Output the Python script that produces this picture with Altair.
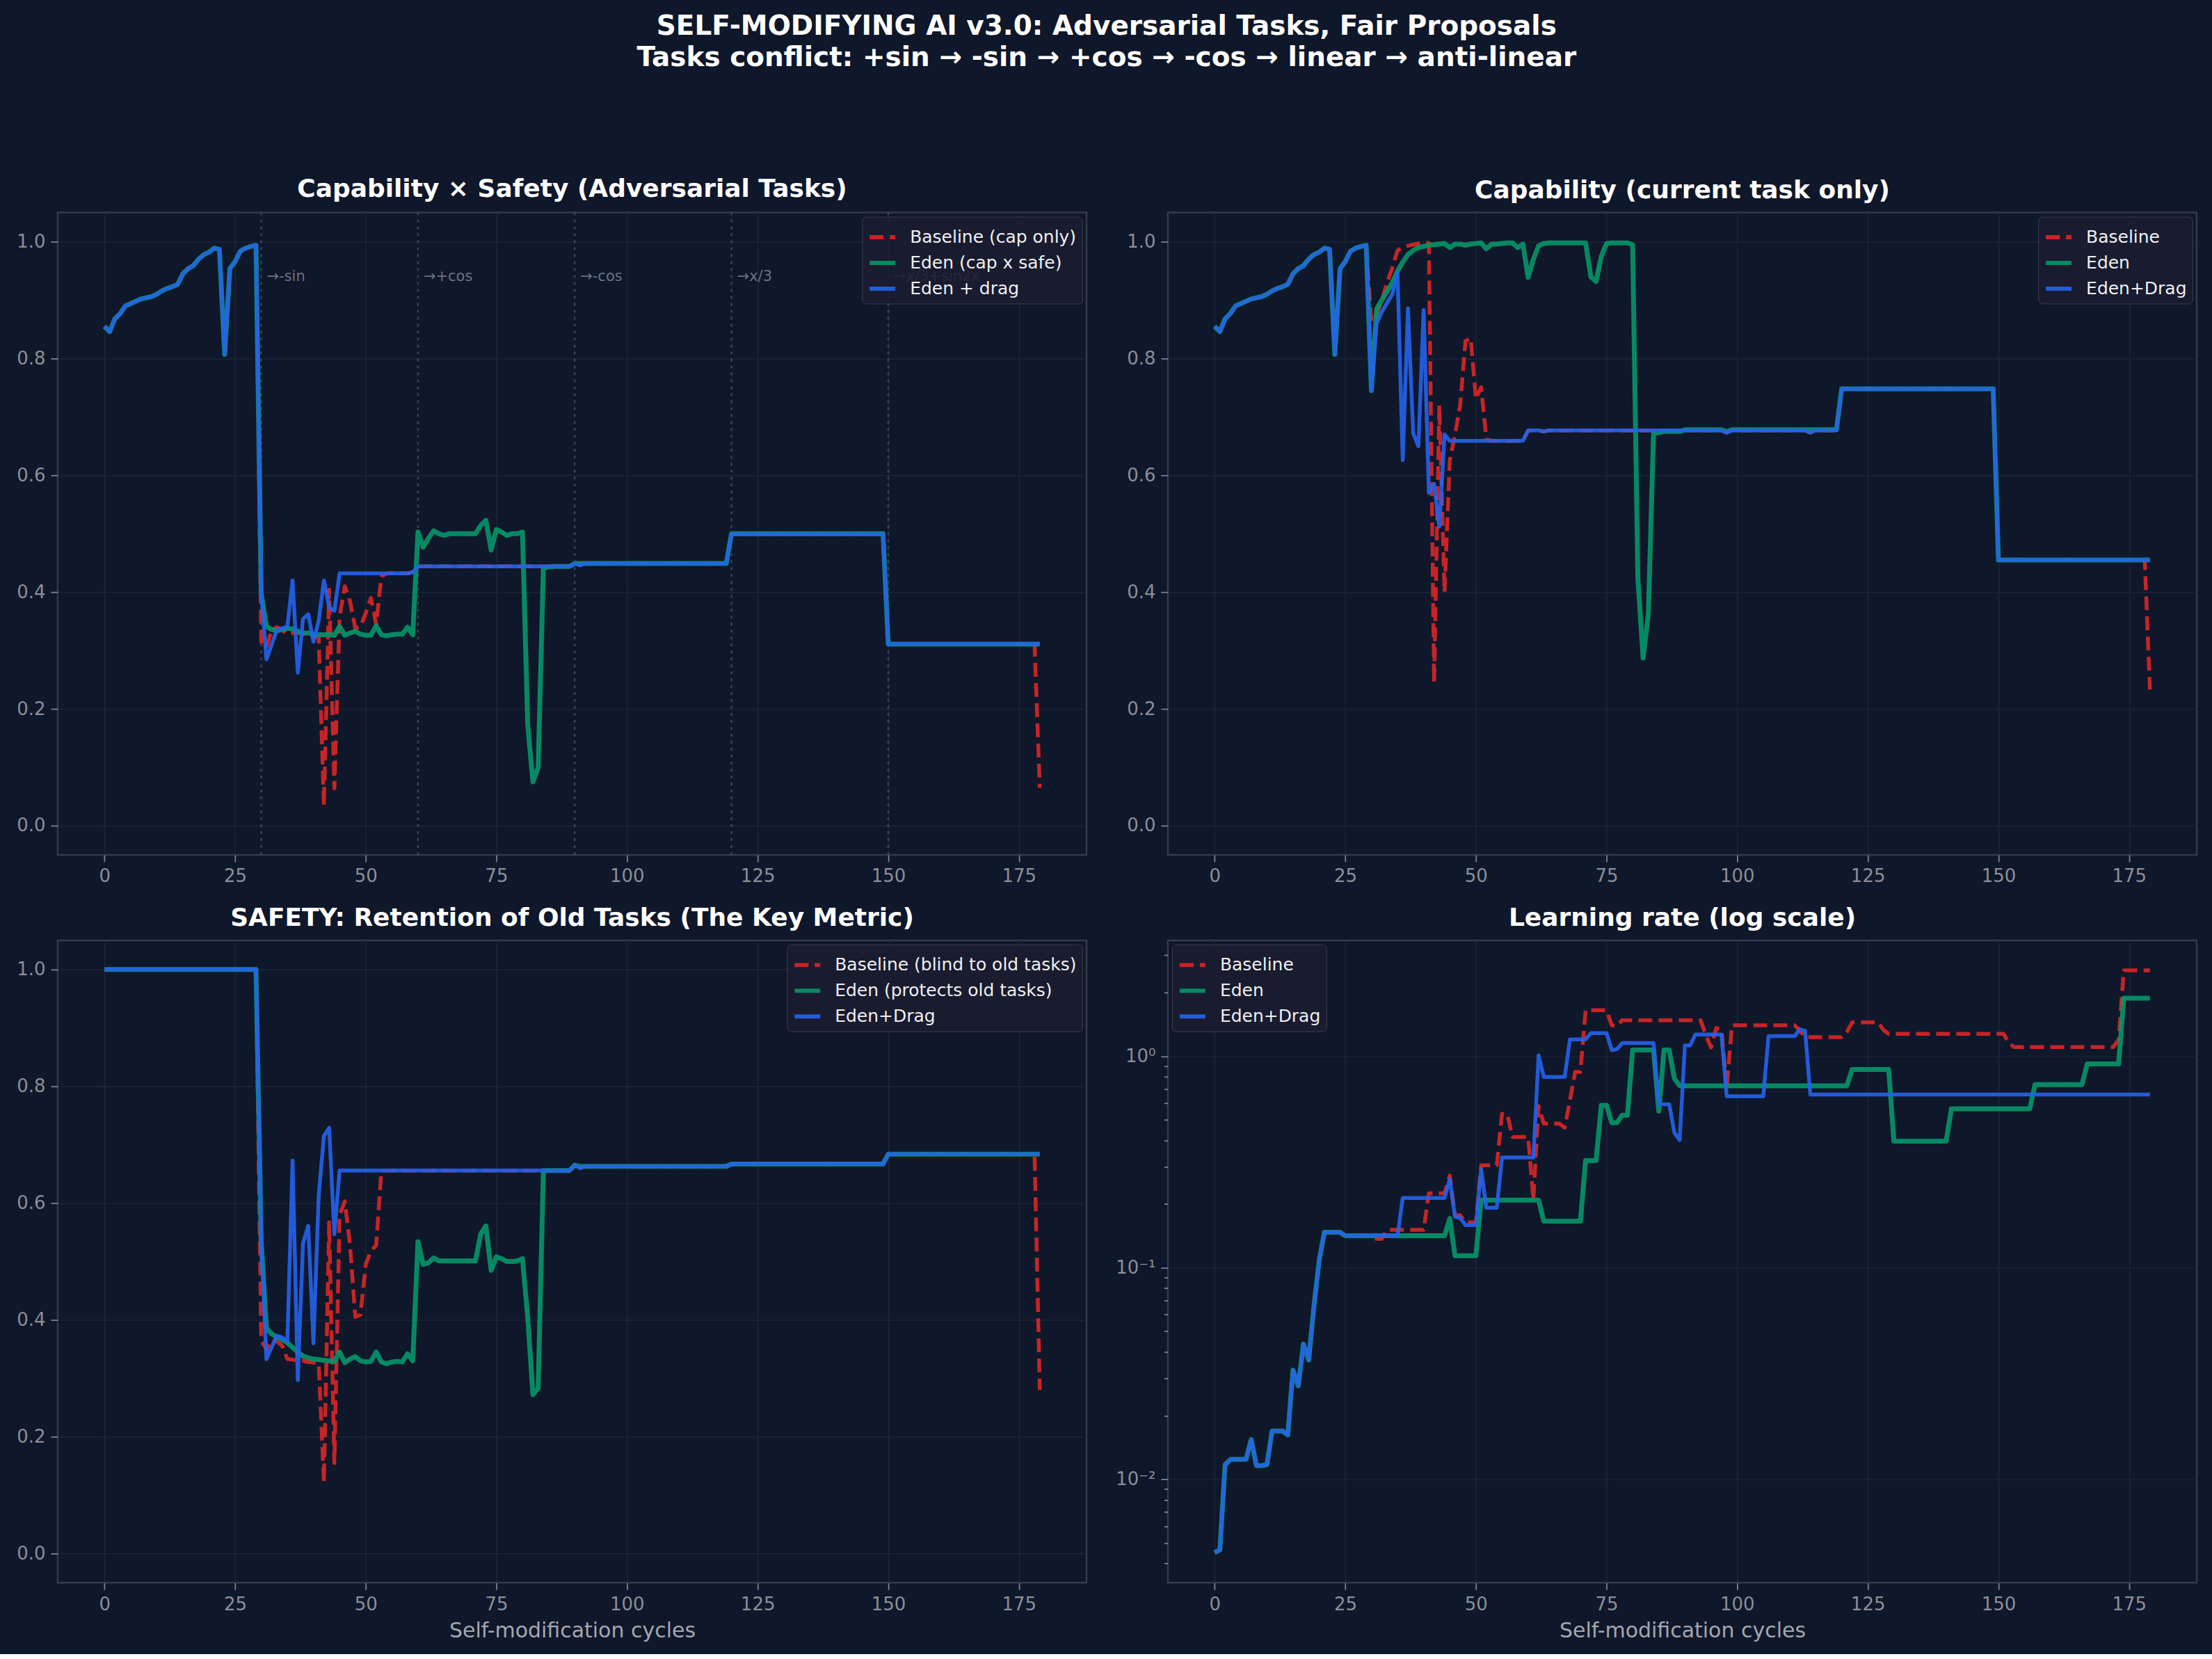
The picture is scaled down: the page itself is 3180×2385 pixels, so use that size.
import altair as alt
import pandas as pd

# ---------------------------------------------------------------- data
CYCLES = list(range(180))
TASK_SWITCHES = [30, 60, 90, 120, 150]
TASK_NOTES = ["→-sin", "→+cos", "→-cos", "→x/3", "→x/3+sin2x"]

# Panel 1: Capability x Safety
CXS_BASELINE = [
    0.855, 0.846, 0.868, 0.877, 0.890, 0.894, 0.898, 0.902, 0.904, 0.906,
    0.910, 0.916, 0.920, 0.923, 0.927, 0.945, 0.954, 0.959, 0.970, 0.978,
    0.982, 0.989, 0.987, 0.807, 0.954, 0.966, 0.984, 0.989, 0.992, 0.994,
    0.315, 0.305, 0.335, 0.340, 0.335, 0.328, 0.330, 0.330, 0.328, 0.326,
    0.325, 0.322, 0.034, 0.404, 0.064, 0.358, 0.410, 0.384, 0.338, 0.341,
    0.364, 0.390, 0.345, 0.427, 0.432, 0.432, 0.432, 0.432, 0.432, 0.434,
    0.444, 0.444, 0.444, 0.444, 0.444, 0.444, 0.444, 0.444, 0.444, 0.444,
    0.444, 0.444, 0.444, 0.444, 0.444, 0.444, 0.444, 0.444, 0.444, 0.444,
    0.444, 0.444, 0.444, 0.444, 0.444, 0.444, 0.444, 0.444, 0.444, 0.444,
    0.449, 0.446, 0.449, 0.449, 0.449, 0.449, 0.449, 0.449, 0.449, 0.449,
    0.449, 0.449, 0.449, 0.449, 0.449, 0.449, 0.449, 0.449, 0.449, 0.449,
    0.449, 0.449, 0.449, 0.449, 0.449, 0.449, 0.449, 0.449, 0.449, 0.449,
    0.499, 0.499, 0.499, 0.499, 0.499, 0.499, 0.499, 0.499, 0.499, 0.499,
    0.499, 0.499, 0.499, 0.499, 0.499, 0.499, 0.499, 0.499, 0.499, 0.499,
    0.499, 0.499, 0.499, 0.499, 0.499, 0.499, 0.499, 0.499, 0.499, 0.499,
    0.311, 0.311, 0.311, 0.311, 0.311, 0.311, 0.311, 0.311, 0.311, 0.311,
    0.311, 0.311, 0.311, 0.311, 0.311, 0.311, 0.311, 0.311, 0.311, 0.311,
    0.311, 0.311, 0.311, 0.311, 0.311, 0.311, 0.311, 0.311, 0.311, 0.065,
]
CXS_EDEN = [
    0.855, 0.846, 0.868, 0.877, 0.890, 0.894, 0.898, 0.902, 0.904, 0.906,
    0.910, 0.916, 0.920, 0.923, 0.927, 0.945, 0.954, 0.959, 0.970, 0.978,
    0.982, 0.989, 0.987, 0.807, 0.954, 0.966, 0.984, 0.989, 0.992, 0.994,
    0.397, 0.341, 0.336, 0.334, 0.336, 0.338, 0.337, 0.333, 0.330, 0.330,
    0.328, 0.327, 0.327, 0.327, 0.326, 0.341, 0.326, 0.330, 0.333, 0.328,
    0.326, 0.326, 0.342, 0.327, 0.325, 0.327, 0.328, 0.328, 0.340, 0.327,
    0.503, 0.477, 0.492, 0.505, 0.500, 0.497, 0.500, 0.500, 0.500, 0.500,
    0.500, 0.500, 0.514, 0.523, 0.472, 0.507, 0.503, 0.497, 0.500, 0.500,
    0.503, 0.173, 0.075, 0.100, 0.441, 0.443, 0.444, 0.444, 0.444, 0.444,
    0.449, 0.449, 0.449, 0.449, 0.449, 0.449, 0.449, 0.449, 0.449, 0.449,
    0.449, 0.449, 0.449, 0.449, 0.449, 0.449, 0.449, 0.449, 0.449, 0.449,
    0.449, 0.449, 0.449, 0.449, 0.449, 0.449, 0.449, 0.449, 0.449, 0.449,
    0.500, 0.500, 0.500, 0.500, 0.500, 0.500, 0.500, 0.500, 0.500, 0.500,
    0.500, 0.500, 0.500, 0.500, 0.500, 0.500, 0.500, 0.500, 0.500, 0.500,
    0.500, 0.500, 0.500, 0.500, 0.500, 0.500, 0.500, 0.500, 0.500, 0.500,
    0.311, 0.311, 0.311, 0.311, 0.311, 0.311, 0.311, 0.311, 0.311, 0.311,
    0.311, 0.311, 0.311, 0.311, 0.311, 0.311, 0.311, 0.311, 0.311, 0.311,
    0.311, 0.311, 0.311, 0.311, 0.311, 0.311, 0.311, 0.311, 0.311, 0.311,
]
CXS_DRAG = [
    0.855, 0.846, 0.868, 0.877, 0.890, 0.894, 0.898, 0.902, 0.904, 0.906,
    0.910, 0.916, 0.920, 0.923, 0.927, 0.945, 0.954, 0.959, 0.970, 0.978,
    0.982, 0.989, 0.987, 0.807, 0.954, 0.966, 0.984, 0.989, 0.992, 0.994,
    0.397, 0.285, 0.310, 0.335, 0.338, 0.341, 0.420, 0.262, 0.354, 0.362,
    0.315, 0.351, 0.420, 0.374, 0.368, 0.432, 0.432, 0.432, 0.432, 0.432,
    0.432, 0.432, 0.432, 0.432, 0.432, 0.432, 0.432, 0.432, 0.432, 0.434,
    0.444, 0.444, 0.444, 0.444, 0.444, 0.444, 0.444, 0.444, 0.444, 0.444,
    0.444, 0.444, 0.444, 0.444, 0.444, 0.444, 0.444, 0.444, 0.444, 0.444,
    0.444, 0.444, 0.444, 0.444, 0.444, 0.444, 0.444, 0.444, 0.444, 0.444,
    0.449, 0.446, 0.449, 0.449, 0.449, 0.449, 0.449, 0.449, 0.449, 0.449,
    0.449, 0.449, 0.449, 0.449, 0.449, 0.449, 0.449, 0.449, 0.449, 0.449,
    0.449, 0.449, 0.449, 0.449, 0.449, 0.449, 0.449, 0.449, 0.449, 0.449,
    0.499, 0.499, 0.499, 0.499, 0.499, 0.499, 0.499, 0.499, 0.499, 0.499,
    0.499, 0.499, 0.499, 0.499, 0.499, 0.499, 0.499, 0.499, 0.499, 0.499,
    0.499, 0.499, 0.499, 0.499, 0.499, 0.499, 0.499, 0.499, 0.499, 0.499,
    0.311, 0.311, 0.311, 0.311, 0.311, 0.311, 0.311, 0.311, 0.311, 0.311,
    0.311, 0.311, 0.311, 0.311, 0.311, 0.311, 0.311, 0.311, 0.311, 0.311,
    0.311, 0.311, 0.311, 0.311, 0.311, 0.311, 0.311, 0.311, 0.311, 0.311,
]

# Panel 2: Capability (current task only)
CAP_BASELINE = [
    0.855, 0.846, 0.868, 0.877, 0.890, 0.894, 0.898, 0.902, 0.904, 0.906,
    0.910, 0.916, 0.920, 0.923, 0.927, 0.945, 0.954, 0.959, 0.970, 0.978,
    0.982, 0.989, 0.987, 0.807, 0.954, 0.966, 0.984, 0.989, 0.992, 0.994,
    0.863, 0.875, 0.900, 0.930, 0.955, 0.985, 0.990, 0.993, 0.995, 0.997,
    0.998, 0.998, 0.245, 0.720, 0.400, 0.625, 0.670, 0.720, 0.830, 0.835,
    0.731, 0.751, 0.662, 0.659, 0.659, 0.659, 0.659, 0.659, 0.659, 0.659,
    0.677, 0.677, 0.677, 0.675, 0.677, 0.677, 0.677, 0.677, 0.677, 0.677,
    0.677, 0.677, 0.677, 0.677, 0.677, 0.677, 0.677, 0.677, 0.677, 0.677,
    0.677, 0.677, 0.677, 0.677, 0.677, 0.677, 0.677, 0.677, 0.677, 0.677,
    0.677, 0.677, 0.677, 0.677, 0.677, 0.677, 0.677, 0.677, 0.673, 0.677,
    0.677, 0.677, 0.677, 0.677, 0.677, 0.677, 0.677, 0.677, 0.677, 0.677,
    0.677, 0.677, 0.677, 0.677, 0.673, 0.677, 0.677, 0.677, 0.677, 0.677,
    0.748, 0.748, 0.748, 0.748, 0.748, 0.748, 0.748, 0.748, 0.748, 0.748,
    0.748, 0.748, 0.748, 0.748, 0.748, 0.748, 0.748, 0.748, 0.748, 0.748,
    0.748, 0.748, 0.748, 0.748, 0.748, 0.748, 0.748, 0.748, 0.748, 0.748,
    0.455, 0.455, 0.455, 0.455, 0.455, 0.455, 0.455, 0.455, 0.455, 0.455,
    0.455, 0.455, 0.455, 0.455, 0.455, 0.455, 0.455, 0.455, 0.455, 0.455,
    0.455, 0.455, 0.455, 0.455, 0.455, 0.455, 0.455, 0.455, 0.455, 0.233,
]
CAP_EDEN = [
    0.855, 0.846, 0.868, 0.877, 0.890, 0.894, 0.898, 0.902, 0.904, 0.906,
    0.910, 0.916, 0.920, 0.923, 0.927, 0.945, 0.954, 0.959, 0.970, 0.978,
    0.982, 0.989, 0.987, 0.807, 0.954, 0.966, 0.984, 0.989, 0.992, 0.994,
    0.745, 0.885, 0.900, 0.915, 0.930, 0.950, 0.965, 0.978, 0.985, 0.990,
    0.992, 0.994, 0.995, 0.996, 0.997, 0.990, 0.996, 0.996, 0.994, 0.996,
    0.997, 0.998, 0.988, 0.996, 0.996, 0.997, 0.998, 0.998, 0.990, 0.996,
    0.939, 0.970, 0.993, 0.997, 0.998, 0.998, 0.998, 0.998, 0.998, 0.998,
    0.998, 0.998, 0.940, 0.932, 0.975, 0.997, 0.998, 0.998, 0.998, 0.998,
    0.995, 0.424, 0.287, 0.362, 0.672, 0.673, 0.675, 0.675, 0.675, 0.675,
    0.678, 0.678, 0.678, 0.678, 0.678, 0.678, 0.678, 0.678, 0.675, 0.678,
    0.678, 0.678, 0.678, 0.678, 0.678, 0.678, 0.678, 0.678, 0.678, 0.678,
    0.678, 0.678, 0.678, 0.678, 0.678, 0.678, 0.678, 0.678, 0.678, 0.678,
    0.748, 0.748, 0.748, 0.748, 0.748, 0.748, 0.748, 0.748, 0.748, 0.748,
    0.748, 0.748, 0.748, 0.748, 0.748, 0.748, 0.748, 0.748, 0.748, 0.748,
    0.748, 0.748, 0.748, 0.748, 0.748, 0.748, 0.748, 0.748, 0.748, 0.748,
    0.455, 0.455, 0.455, 0.455, 0.455, 0.455, 0.455, 0.455, 0.455, 0.455,
    0.455, 0.455, 0.455, 0.455, 0.455, 0.455, 0.455, 0.455, 0.455, 0.455,
    0.455, 0.455, 0.455, 0.455, 0.455, 0.455, 0.455, 0.455, 0.455, 0.455,
]
CAP_DRAG = [
    0.855, 0.846, 0.868, 0.877, 0.890, 0.894, 0.898, 0.902, 0.904, 0.906,
    0.910, 0.916, 0.920, 0.923, 0.927, 0.945, 0.954, 0.959, 0.970, 0.978,
    0.982, 0.989, 0.987, 0.807, 0.954, 0.966, 0.984, 0.989, 0.992, 0.994,
    0.745, 0.860, 0.880, 0.895, 0.910, 0.947, 0.626, 0.886, 0.672, 0.650,
    0.883, 0.570, 0.585, 0.512, 0.670, 0.659, 0.659, 0.659, 0.659, 0.659,
    0.659, 0.659, 0.659, 0.659, 0.659, 0.659, 0.659, 0.659, 0.659, 0.659,
    0.677, 0.677, 0.677, 0.675, 0.677, 0.677, 0.677, 0.677, 0.677, 0.677,
    0.677, 0.677, 0.677, 0.677, 0.677, 0.677, 0.677, 0.677, 0.677, 0.677,
    0.677, 0.677, 0.677, 0.677, 0.677, 0.677, 0.677, 0.677, 0.677, 0.677,
    0.677, 0.677, 0.677, 0.677, 0.677, 0.677, 0.677, 0.677, 0.673, 0.677,
    0.677, 0.677, 0.677, 0.677, 0.677, 0.677, 0.677, 0.677, 0.677, 0.677,
    0.677, 0.677, 0.677, 0.677, 0.673, 0.677, 0.677, 0.677, 0.677, 0.677,
    0.748, 0.748, 0.748, 0.748, 0.748, 0.748, 0.748, 0.748, 0.748, 0.748,
    0.748, 0.748, 0.748, 0.748, 0.748, 0.748, 0.748, 0.748, 0.748, 0.748,
    0.748, 0.748, 0.748, 0.748, 0.748, 0.748, 0.748, 0.748, 0.748, 0.748,
    0.455, 0.455, 0.455, 0.455, 0.455, 0.455, 0.455, 0.455, 0.455, 0.455,
    0.455, 0.455, 0.455, 0.455, 0.455, 0.455, 0.455, 0.455, 0.455, 0.455,
    0.455, 0.455, 0.455, 0.455, 0.455, 0.455, 0.455, 0.455, 0.455, 0.455,
]

# Panel 3: Safety (retention of old tasks)
SAFE_BASELINE = [
    1.0, 1.0, 1.0, 1.0, 1.0, 1.0, 1.0, 1.0, 1.0, 1.0,
    1.0, 1.0, 1.0, 1.0, 1.0, 1.0, 1.0, 1.0, 1.0, 1.0,
    1.0, 1.0, 1.0, 1.0, 1.0, 1.0, 1.0, 1.0, 1.0, 1.0,
    0.365, 0.350, 0.366, 0.363, 0.356, 0.333, 0.332, 0.330, 0.330, 0.328,
    0.327, 0.326, 0.122, 0.567, 0.155, 0.580, 0.603, 0.528, 0.405, 0.409,
    0.495, 0.518, 0.528, 0.656, 0.656, 0.656, 0.656, 0.656, 0.656, 0.656,
    0.656, 0.656, 0.656, 0.656, 0.656, 0.656, 0.656, 0.656, 0.656, 0.656,
    0.656, 0.656, 0.656, 0.656, 0.656, 0.656, 0.656, 0.656, 0.656, 0.656,
    0.656, 0.656, 0.656, 0.656, 0.656, 0.656, 0.656, 0.656, 0.656, 0.656,
    0.665, 0.660, 0.663, 0.663, 0.663, 0.663, 0.663, 0.663, 0.663, 0.663,
    0.663, 0.663, 0.663, 0.663, 0.663, 0.663, 0.663, 0.663, 0.663, 0.663,
    0.663, 0.663, 0.663, 0.663, 0.663, 0.663, 0.663, 0.663, 0.663, 0.663,
    0.667, 0.667, 0.667, 0.667, 0.667, 0.667, 0.667, 0.667, 0.667, 0.667,
    0.667, 0.667, 0.667, 0.667, 0.667, 0.667, 0.667, 0.667, 0.667, 0.667,
    0.667, 0.667, 0.667, 0.667, 0.667, 0.667, 0.667, 0.667, 0.667, 0.667,
    0.684, 0.684, 0.684, 0.684, 0.684, 0.684, 0.684, 0.684, 0.684, 0.684,
    0.684, 0.684, 0.684, 0.684, 0.684, 0.684, 0.684, 0.684, 0.684, 0.684,
    0.684, 0.684, 0.684, 0.684, 0.684, 0.684, 0.684, 0.684, 0.684, 0.280,
]
SAFE_EDEN = [
    1.0, 1.0, 1.0, 1.0, 1.0, 1.0, 1.0, 1.0, 1.0, 1.0,
    1.0, 1.0, 1.0, 1.0, 1.0, 1.0, 1.0, 1.0, 1.0, 1.0,
    1.0, 1.0, 1.0, 1.0, 1.0, 1.0, 1.0, 1.0, 1.0, 1.0,
    0.534, 0.386, 0.376, 0.371, 0.366, 0.361, 0.353, 0.345, 0.338, 0.335,
    0.333, 0.332, 0.331, 0.330, 0.329, 0.345, 0.327, 0.333, 0.337, 0.330,
    0.328, 0.329, 0.345, 0.328, 0.325, 0.328, 0.329, 0.328, 0.342, 0.330,
    0.534, 0.495, 0.498, 0.506, 0.501, 0.501, 0.501, 0.501, 0.501, 0.501,
    0.501, 0.501, 0.547, 0.561, 0.485, 0.508, 0.505, 0.500, 0.500, 0.501,
    0.505, 0.405, 0.272, 0.283, 0.656, 0.656, 0.656, 0.656, 0.656, 0.656,
    0.665, 0.663, 0.663, 0.663, 0.663, 0.663, 0.663, 0.663, 0.663, 0.663,
    0.663, 0.663, 0.663, 0.663, 0.663, 0.663, 0.663, 0.663, 0.663, 0.663,
    0.663, 0.663, 0.663, 0.663, 0.663, 0.663, 0.663, 0.663, 0.663, 0.663,
    0.667, 0.667, 0.667, 0.667, 0.667, 0.667, 0.667, 0.667, 0.667, 0.667,
    0.667, 0.667, 0.667, 0.667, 0.667, 0.667, 0.667, 0.667, 0.667, 0.667,
    0.667, 0.667, 0.667, 0.667, 0.667, 0.667, 0.667, 0.667, 0.667, 0.667,
    0.684, 0.684, 0.684, 0.684, 0.684, 0.684, 0.684, 0.684, 0.684, 0.684,
    0.684, 0.684, 0.684, 0.684, 0.684, 0.684, 0.684, 0.684, 0.684, 0.684,
    0.684, 0.684, 0.684, 0.684, 0.684, 0.684, 0.684, 0.684, 0.684, 0.684,
]
SAFE_DRAG = [
    1.0, 1.0, 1.0, 1.0, 1.0, 1.0, 1.0, 1.0, 1.0, 1.0,
    1.0, 1.0, 1.0, 1.0, 1.0, 1.0, 1.0, 1.0, 1.0, 1.0,
    1.0, 1.0, 1.0, 1.0, 1.0, 1.0, 1.0, 1.0, 1.0, 1.0,
    0.534, 0.333, 0.353, 0.373, 0.370, 0.363, 0.673, 0.297, 0.531, 0.561,
    0.360, 0.613, 0.715, 0.729, 0.547, 0.656, 0.656, 0.656, 0.656, 0.656,
    0.656, 0.656, 0.656, 0.656, 0.656, 0.656, 0.656, 0.656, 0.656, 0.656,
    0.656, 0.656, 0.656, 0.656, 0.656, 0.656, 0.656, 0.656, 0.656, 0.656,
    0.656, 0.656, 0.656, 0.656, 0.656, 0.656, 0.656, 0.656, 0.656, 0.656,
    0.656, 0.656, 0.656, 0.656, 0.656, 0.656, 0.656, 0.656, 0.656, 0.656,
    0.665, 0.660, 0.663, 0.663, 0.663, 0.663, 0.663, 0.663, 0.663, 0.663,
    0.663, 0.663, 0.663, 0.663, 0.663, 0.663, 0.663, 0.663, 0.663, 0.663,
    0.663, 0.663, 0.663, 0.663, 0.663, 0.663, 0.663, 0.663, 0.663, 0.663,
    0.667, 0.667, 0.667, 0.667, 0.667, 0.667, 0.667, 0.667, 0.667, 0.667,
    0.667, 0.667, 0.667, 0.667, 0.667, 0.667, 0.667, 0.667, 0.667, 0.667,
    0.667, 0.667, 0.667, 0.667, 0.667, 0.667, 0.667, 0.667, 0.667, 0.667,
    0.684, 0.684, 0.684, 0.684, 0.684, 0.684, 0.684, 0.684, 0.684, 0.684,
    0.684, 0.684, 0.684, 0.684, 0.684, 0.684, 0.684, 0.684, 0.684, 0.684,
    0.684, 0.684, 0.684, 0.684, 0.684, 0.684, 0.684, 0.684, 0.684, 0.684,
]

# Panel 4: Learning rate
LR_BASELINE = [
    0.0045, 0.00463, 0.0117, 0.0124, 0.0124, 0.0124, 0.0124, 0.0154, 0.0116, 0.0116,
    0.0117, 0.0169, 0.0169, 0.0169, 0.0162, 0.0328, 0.0276, 0.0435, 0.0366, 0.0656,
    0.108, 0.147, 0.147, 0.147, 0.147, 0.1416, 0.1416, 0.1416, 0.1416, 0.1416,
    0.140, 0.137, 0.137, 0.151, 0.151, 0.151, 0.151, 0.151, 0.151, 0.151,
    0.151, 0.225, 0.225, 0.225, 0.225, 0.273, 0.177, 0.177, 0.164, 0.164,
    0.164, 0.305, 0.305, 0.305, 0.305, 0.534, 0.534, 0.415, 0.415, 0.415,
    0.415, 0.210, 0.582, 0.480, 0.480, 0.480, 0.480, 0.460, 0.620, 0.843,
    0.843, 1.65, 1.65, 1.65, 1.65, 1.65, 1.40, 1.39, 1.48, 1.48,
    1.48, 1.48, 1.48, 1.48, 1.48, 1.48, 1.48, 1.48, 1.48, 1.48,
    1.48, 1.48, 1.48, 1.48, 1.26, 1.10, 1.36, 1.34, 0.70, 1.40,
    1.40, 1.40, 1.40, 1.40, 1.40, 1.40, 1.40, 1.40, 1.40, 1.40,
    1.40, 1.40, 1.325, 1.23, 1.23, 1.23, 1.23, 1.23, 1.23, 1.23,
    1.23, 1.30, 1.447, 1.447, 1.447, 1.447, 1.447, 1.447, 1.33, 1.276,
    1.276, 1.276, 1.276, 1.276, 1.276, 1.276, 1.276, 1.276, 1.276, 1.276,
    1.276, 1.276, 1.276, 1.276, 1.276, 1.276, 1.276, 1.276, 1.276, 1.276,
    1.276, 1.276, 1.15, 1.106, 1.106, 1.106, 1.106, 1.106, 1.106, 1.106,
    1.106, 1.106, 1.106, 1.106, 1.106, 1.106, 1.106, 1.106, 1.106, 1.106,
    1.106, 1.106, 1.106, 1.198, 2.545, 2.545, 2.545, 2.545, 2.545, 2.545,
]
LR_EDEN = [
    0.0045, 0.00463, 0.0117, 0.0124, 0.0124, 0.0124, 0.0124, 0.0154, 0.0116, 0.0116,
    0.0117, 0.0169, 0.0169, 0.0169, 0.0162, 0.0328, 0.0276, 0.0435, 0.0366, 0.0656,
    0.108, 0.147, 0.147, 0.147, 0.147, 0.1416, 0.1416, 0.1416, 0.1416, 0.1416,
    0.1416, 0.1416, 0.1416, 0.1416, 0.1416, 0.1416, 0.1416, 0.1416, 0.1416, 0.1416,
    0.1416, 0.1416, 0.1416, 0.1416, 0.1416, 0.171, 0.114, 0.114, 0.114, 0.114,
    0.114, 0.209, 0.209, 0.209, 0.209, 0.209, 0.209, 0.209, 0.209, 0.209,
    0.209, 0.209, 0.209, 0.166, 0.166, 0.166, 0.166, 0.166, 0.166, 0.166,
    0.166, 0.321, 0.321, 0.321, 0.586, 0.586, 0.485, 0.485, 0.526, 0.526,
    1.07, 1.07, 1.07, 1.07, 1.07, 0.55, 1.07, 1.07, 0.782, 0.725,
    0.725, 0.725, 0.725, 0.725, 0.725, 0.725, 0.725, 0.725, 0.725, 0.725,
    0.725, 0.725, 0.725, 0.725, 0.725, 0.725, 0.725, 0.725, 0.725, 0.725,
    0.725, 0.725, 0.725, 0.725, 0.725, 0.725, 0.725, 0.725, 0.725, 0.725,
    0.725, 0.725, 0.865, 0.865, 0.865, 0.865, 0.865, 0.865, 0.865, 0.865,
    0.397, 0.397, 0.397, 0.397, 0.397, 0.397, 0.397, 0.397, 0.397, 0.397,
    0.397, 0.564, 0.564, 0.564, 0.564, 0.564, 0.564, 0.564, 0.564, 0.564,
    0.564, 0.564, 0.564, 0.564, 0.564, 0.564, 0.564, 0.734, 0.734, 0.734,
    0.734, 0.734, 0.734, 0.734, 0.734, 0.734, 0.734, 0.92, 0.92, 0.92,
    0.92, 0.92, 0.92, 0.92, 1.88, 1.88, 1.88, 1.88, 1.88, 1.88,
]
LR_DRAG = [
    0.0045, 0.00463, 0.0117, 0.0124, 0.0124, 0.0124, 0.0124, 0.0154, 0.0116, 0.0116,
    0.0117, 0.0169, 0.0169, 0.0169, 0.0162, 0.0328, 0.0276, 0.0435, 0.0366, 0.0656,
    0.108, 0.147, 0.147, 0.147, 0.147, 0.1416, 0.1416, 0.1416, 0.1416, 0.1416,
    0.1416, 0.1416, 0.1416, 0.1416, 0.1416, 0.1416, 0.2136, 0.2136, 0.2136, 0.2136,
    0.2136, 0.2136, 0.2136, 0.2136, 0.2136, 0.262, 0.174, 0.172, 0.159, 0.159,
    0.159, 0.292, 0.192, 0.192, 0.192, 0.332, 0.332, 0.332, 0.332, 0.332,
    0.332, 0.332, 1.009, 0.798, 0.798, 0.798, 0.798, 0.798, 1.20, 1.20,
    1.20, 1.20, 1.285, 1.285, 1.285, 1.285, 1.07, 1.08, 1.154, 1.154,
    1.154, 1.154, 1.154, 1.154, 1.154, 0.593, 0.593, 0.593, 0.434, 0.402,
    1.125, 1.125, 1.266, 1.266, 1.266, 1.266, 1.266, 1.266, 0.647, 0.647,
    0.647, 0.647, 0.647, 0.647, 0.647, 0.647, 1.244, 1.244, 1.244, 1.244,
    1.244, 1.244, 1.34, 1.32, 0.659, 0.659, 0.659, 0.659, 0.659, 0.659,
    0.659, 0.659, 0.659, 0.659, 0.659, 0.659, 0.659, 0.659, 0.659, 0.659,
    0.659, 0.659, 0.659, 0.659, 0.659, 0.659, 0.659, 0.659, 0.659, 0.659,
    0.659, 0.659, 0.659, 0.659, 0.659, 0.659, 0.659, 0.659, 0.659, 0.659,
    0.659, 0.659, 0.659, 0.659, 0.659, 0.659, 0.659, 0.659, 0.659, 0.659,
    0.659, 0.659, 0.659, 0.659, 0.659, 0.659, 0.659, 0.659, 0.659, 0.659,
    0.659, 0.659, 0.659, 0.659, 0.659, 0.659, 0.659, 0.659, 0.659, 0.659,
]

CXS_LABELS = ["Baseline (cap only)", "Eden (cap x safe)", "Eden + drag"]
CAP_LABELS = ["Baseline", "Eden", "Eden+Drag"]
SAFE_LABELS = ["Baseline (blind to old tasks)", "Eden (protects old tasks)", "Eden+Drag"]
LR_LABELS = ["Baseline", "Eden", "Eden+Drag"]

X_TICKS = [0, 25, 50, 75, 100, 125, 150, 175]
Y_TICKS = [0.0, 0.2, 0.4, 0.6, 0.8, 1.0]
LR_TICKS = [0.004, 0.005, 0.006, 0.007, 0.008, 0.009, 0.01,
            0.02, 0.03, 0.04, 0.05, 0.06, 0.07, 0.08, 0.09, 0.1,
            0.2, 0.3, 0.4, 0.5, 0.6, 0.7, 0.8, 0.9, 1, 2, 3]

# ---------------------------------------------------------------- style
BG = "#0f172a"
RED, GREEN, BLUE = "#dc2626", "#059669", "#2563eb"
FONT = "DejaVu Sans"
PANEL_W, PANEL_H = 1480, 924
MAJOR_TEST = "datum.value == 1 || datum.value == 0.1 || datum.value == 0.01"


def make_panel(title, labels, series, legend_orient, log=False, xtitle=None, notes=False):
    rows = []
    for lab, vals in zip(labels, series):
        for c, v in zip(CYCLES, vals):
            rows.append({"cycle": c, "value": v, "series": lab})
    df = pd.DataFrame(rows)

    x_axis = alt.Axis(values=X_TICKS, format="d", title=xtitle) if xtitle else \
        alt.Axis(values=X_TICKS, format="d", title=None)
    x = alt.X("cycle:Q", scale=alt.Scale(domain=[-8.95, 187.95], nice=False, zero=False), axis=x_axis)

    if log:
        y = alt.Y(
            "value:Q",
            scale=alt.Scale(type="log", domain=[0.00324, 3.53], nice=False),
            axis=alt.Axis(
                values=LR_TICKS, title=None,
                labelExpr="datum.value == 1 ? '10⁰' : (datum.value == 0.1 ? '10⁻¹' : (datum.value == 0.01 ? '10⁻²' : ''))",
                tickSize={"condition": {"test": MAJOR_TEST, "value": 10}, "value": 5.5},
                gridOpacity={"condition": {"test": MAJOR_TEST, "value": 0.8}, "value": 0},
                labelOverlap=False,
            ),
        )
    else:
        y = alt.Y(
            "value:Q",
            scale=alt.Scale(domain=[-0.05, 1.05], nice=False, zero=False),
            axis=alt.Axis(values=Y_TICKS, format=".1f", title=None),
        )

    leg = alt.Legend(
        title=None, orient=legend_orient, offset=6, padding=8,
        fillColor="rgba(27,28,46,0.86)", strokeColor="#3a3d4d", cornerRadius=6,
        labelFontSize=25, labelColor="#eef0f3", labelFont=FONT, labelLimit=600,
        symbolType="stroke", symbolSize=1369, symbolStrokeWidth=6,
        rowPadding=2, labelOffset=18,
    )
    color = alt.Color("series:N", scale=alt.Scale(domain=labels, range=[RED, GREEN, BLUE]), legend=leg)
    dash = alt.StrokeDash("series:N", scale=alt.Scale(domain=labels, range=[[20, 9], [1, 0], [1, 0]]), legend=leg)

    layers = []
    if notes:
        note_df = pd.DataFrame({"cycle": TASK_SWITCHES, "note": TASK_NOTES})
        layers.append(
            alt.Chart(note_df).mark_rule(color="#4b5563", strokeWidth=2.5, strokeDash=[4, 6], opacity=0.7)
            .encode(x=x)
        )
        layers.append(
            alt.Chart(note_df).mark_text(align="left", baseline="middle", dx=8, fontSize=21,
                                         font=FONT, color="#6b7280")
            .encode(x=x, y=alt.datum(0.94), text="note:N")
        )
    widths = [5.5, 7, 5.5]
    for lab, w in zip(labels, widths):
        layers.append(
            alt.Chart(df).transform_filter(alt.datum.series == lab)
            .mark_line(strokeWidth=w, opacity=0.9, strokeJoin="round")
            .encode(x=x, y=y, color=color, strokeDash=dash)
        )
    return alt.layer(*layers).properties(
        width=PANEL_W, height=PANEL_H,
        title=alt.TitleParams(title, fontSize=36, fontWeight="bold", color="#ffffff",
                              font=FONT, offset=13, anchor="middle"),
    )


tl = make_panel("Capability × Safety (Adversarial Tasks)", CXS_LABELS,
                [CXS_BASELINE, CXS_EDEN, CXS_DRAG], "top-right", notes=True)
tr = make_panel("Capability (current task only)", CAP_LABELS,
                [CAP_BASELINE, CAP_EDEN, CAP_DRAG], "top-right")
bl = make_panel("SAFETY: Retention of Old Tasks (The Key Metric)", SAFE_LABELS,
                [SAFE_BASELINE, SAFE_EDEN, SAFE_DRAG], "top-right", xtitle="Self-modification cycles")
br = make_panel("Learning rate (log scale)", LR_LABELS,
                [LR_BASELINE, LR_EDEN, LR_DRAG], "top-left", log=True, xtitle="Self-modification cycles")

chart = alt.concat(
    tl, tr, bl, br, columns=2,
    spacing={"row": 123, "column": 117}, bounds="flush",
    title=alt.TitleParams(
        ["SELF-MODIFYING AI v3.0: Adversarial Tasks, Fair Proposals",
         "Tasks conflict: +sin → -sin → +cos → -cos → linear → anti-linear"],
        fontSize=39, fontWeight="bold", color="#ffffff", font=FONT,
        anchor="middle", lineHeight=45, offset=150,
    ),
    padding={"left": 22, "right": 20, "top": 18, "bottom": 16},
).resolve_scale(
    color="independent", strokeDash="independent",
).resolve_legend(
    color="independent", strokeDash="independent",
).configure(
    background=BG, font=FONT,
).configure_view(
    stroke="#333a48", strokeWidth=2.5, fill=BG,
).configure_axis(
    domain=False, grid=True, gridColor="#1f2937", gridOpacity=0.8, gridWidth=1.5,
    tickColor="#7b8190", tickSize=10, tickWidth=1.8,
    labelColor="#8b8f98", labelFontSize=26, labelFont=FONT, labelPadding=8,
    titleColor="#a3a7ae", titleFontSize=30, titleFont=FONT, titleFontWeight="normal", titlePadding=10,
)

chart.save("out.html", embed_options={"renderer": "svg", "actions": False})
